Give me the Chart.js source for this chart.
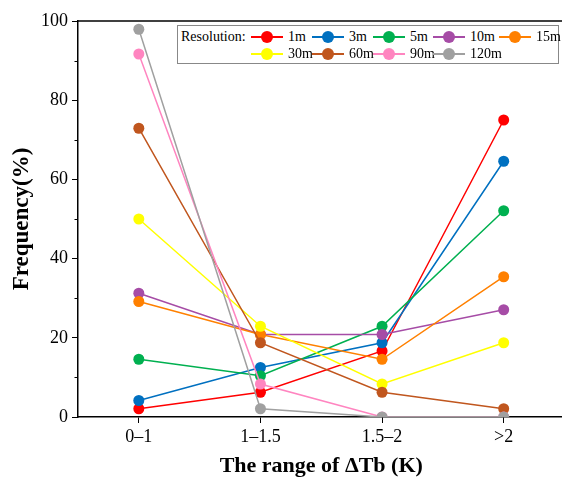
<!DOCTYPE html>
<html>
<head>
<meta charset="utf-8">
<script src="https://cdn.jsdelivr.net/npm/chart.js@4/dist/chart.umd.min.js"></script>
<style>
    html, body { margin: 0; padding: 0; background: #fff; overflow: hidden; }
    #wrap { position: relative; width: 562px; height: 484px; overflow: hidden; }
    #chart { position: absolute; left: 0; top: 0; }
    #legend {
        position: absolute; left: 177px; top: 25px; width: 380px; height: 37px;
        border: 1px solid #888; background: #fff;
        font-family: "Liberation Serif", serif; font-size: 14px; color: #000;
    }
    .lab { position: absolute; line-height: 17px; white-space: nowrap; }
    .mark { position: absolute; width: 32px; height: 12px; }
    .mark .ln { position: absolute; left: 0; right: 0; top: 5px; height: 1.5px; }
    .mark .dot { position: absolute; left: 10px; top: 0; width: 12px; height: 12px; border-radius: 50%; }
</style>
</head>
<body>
<div id="wrap">
    <canvas id="chart" width="570" height="484"></canvas>
    <div id="legend"></div>
</div>
<script>
// Categories and series (frequency in %)
const categories = ['0\u20131', '1\u20131.5', '1.5\u20132', '>2'];
const resolutions = ['1m', '3m', '5m', '10m', '15m', '30m', '60m', '90m', '120m'];
const colors = ['#ff0000', '#0070c0', '#00b050', '#a64ca6', '#ff8000', '#ffff00', '#c0561e', '#ff85c0', '#a0a0a0'];
const f1m = [2.08, 6.25, 16.67, 75.0];
const f3m = [4.17, 12.5, 18.75, 64.58];
const f5m = [14.58, 10.42, 22.92, 52.08];
const f10m = [31.25, 20.83, 20.83, 27.08];
const f15m = [29.17, 20.83, 14.58, 35.42];
const f30m = [50.0, 22.92, 8.33, 18.75];
const f60m = [72.92, 18.75, 6.25, 2.08];
const f90m = [91.67, 8.33, 0, 0];
const f120m = [97.92, 2.08, 0, 0];
const yTicks = [0, 20, 40, 60, 80, 100];
const seriesValues = [f1m, f3m, f5m, f10m, f15m, f30m, f60m, f90m, f120m];

const fontFamily = "'Liberation Serif', serif";
Chart.defaults.font.family = fontFamily;
Chart.defaults.color = '#000';

const datasets = seriesValues.map((values, i) => ({
    label: resolutions[i],
    data: values,
    borderColor: colors[i],
    backgroundColor: colors[i],
    pointBackgroundColor: colors[i],
    pointBorderWidth: 0,
    pointRadius: 5.5,
    borderWidth: 1.5,
    tension: 0,
    order: seriesValues.length - i
}));

// Frame: top border line and minor ticks on y
const framePlugin = {
    id: 'frame',
    afterDraw(chart) {
        const ctx = chart.ctx;
        const area = chart.chartArea;
        const y = chart.scales.y;
        ctx.save();
        ctx.strokeStyle = '#000';
        ctx.lineWidth = 1.5;
        ctx.beginPath();
        ctx.moveTo(area.left, area.top);
        ctx.lineTo(area.right, area.top);
        ctx.stroke();
        ctx.lineWidth = 1;
        for (let v = 10; v < 100; v += 20) {
            const py = Math.round(y.getPixelForValue(v)) + 0.5;
            ctx.beginPath();
            ctx.moveTo(area.left - 3.5, py);
            ctx.lineTo(area.left, py);
            ctx.stroke();
        }
        ctx.restore();
    }
};

const ctx = document.getElementById('chart').getContext('2d');
new Chart(ctx, {
    type: 'line',
    data: { labels: categories, datasets },
    options: {
        responsive: false,
        animation: false,
        layout: { padding: { left: 0, right: 0, top: 21, bottom: 0 } },
        plugins: { legend: { display: false }, tooltip: { enabled: false } },
        scales: {
            x: {
                offset: true,
                grid: { drawOnChartArea: false, drawTicks: true, tickLength: 6, color: '#000', lineWidth: 1 },
                border: { color: '#000', width: 1.5 },
                ticks: { color: '#000', font: { family: fontFamily, size: 18 }, padding: 3 },
                title: {
                    display: true, text: 'The range of \u0394Tb (K)', color: '#000',
                    font: { family: fontFamily, size: 22, weight: 'bold' }, padding: { top: 6 }
                },
                afterFit(scale) { scale.height = 67; }
            },
            y: {
                min: 0, max: 100,
                afterBuildTicks(scale) { scale.ticks = yTicks.map(v => ({ value: v })); },
                grid: { drawOnChartArea: false, drawTicks: true, tickLength: 6, color: '#000', lineWidth: 1 },
                border: { color: '#000', width: 1.5 },
                ticks: { color: '#000', font: { family: fontFamily, size: 18 }, padding: 4 },
                title: {
                    display: true, text: 'Frequency(%)', color: '#000',
                    font: { family: fontFamily, size: 23, weight: 'bold' }, padding: { top: 8, bottom: 0 }
                },
                afterFit(scale) { scale.width = 78; }
            }
        }
    },
    plugins: [framePlugin]
});

// Legend built from the same series, laid out in columns
const legend = document.getElementById('legend');
const columnX = [73, 134, 195, 255, 321];
const rowY = [11, 28];
function addItem(i, col, row) {
    const mark = document.createElement('div');
    mark.className = 'mark';
    mark.style.left = columnX[col] + 'px';
    mark.style.top = (rowY[row] - 6) + 'px';
    mark.innerHTML = '<div class="ln" style="background:' + colors[i] + '"></div>' +
        '<div class="dot" style="background:' + colors[i] + '"></div>';
    const lab = document.createElement('div');
    lab.className = 'lab';
    lab.style.left = (columnX[col] + 37) + 'px';
    lab.style.top = (rowY[row] - 9) + 'px';
    lab.textContent = resolutions[i];
    legend.appendChild(mark);
    legend.appendChild(lab);
}
const title = document.createElement('div');
title.className = 'lab';
title.style.left = '3px';
title.style.top = (rowY[0] - 9) + 'px';
title.textContent = 'Resolution:';
legend.appendChild(title);
resolutions.forEach((r, i) => {
    if (i < 5) addItem(i, i, 0);
    else addItem(i, i - 5, 1);
});
</script>
</body>
</html>
